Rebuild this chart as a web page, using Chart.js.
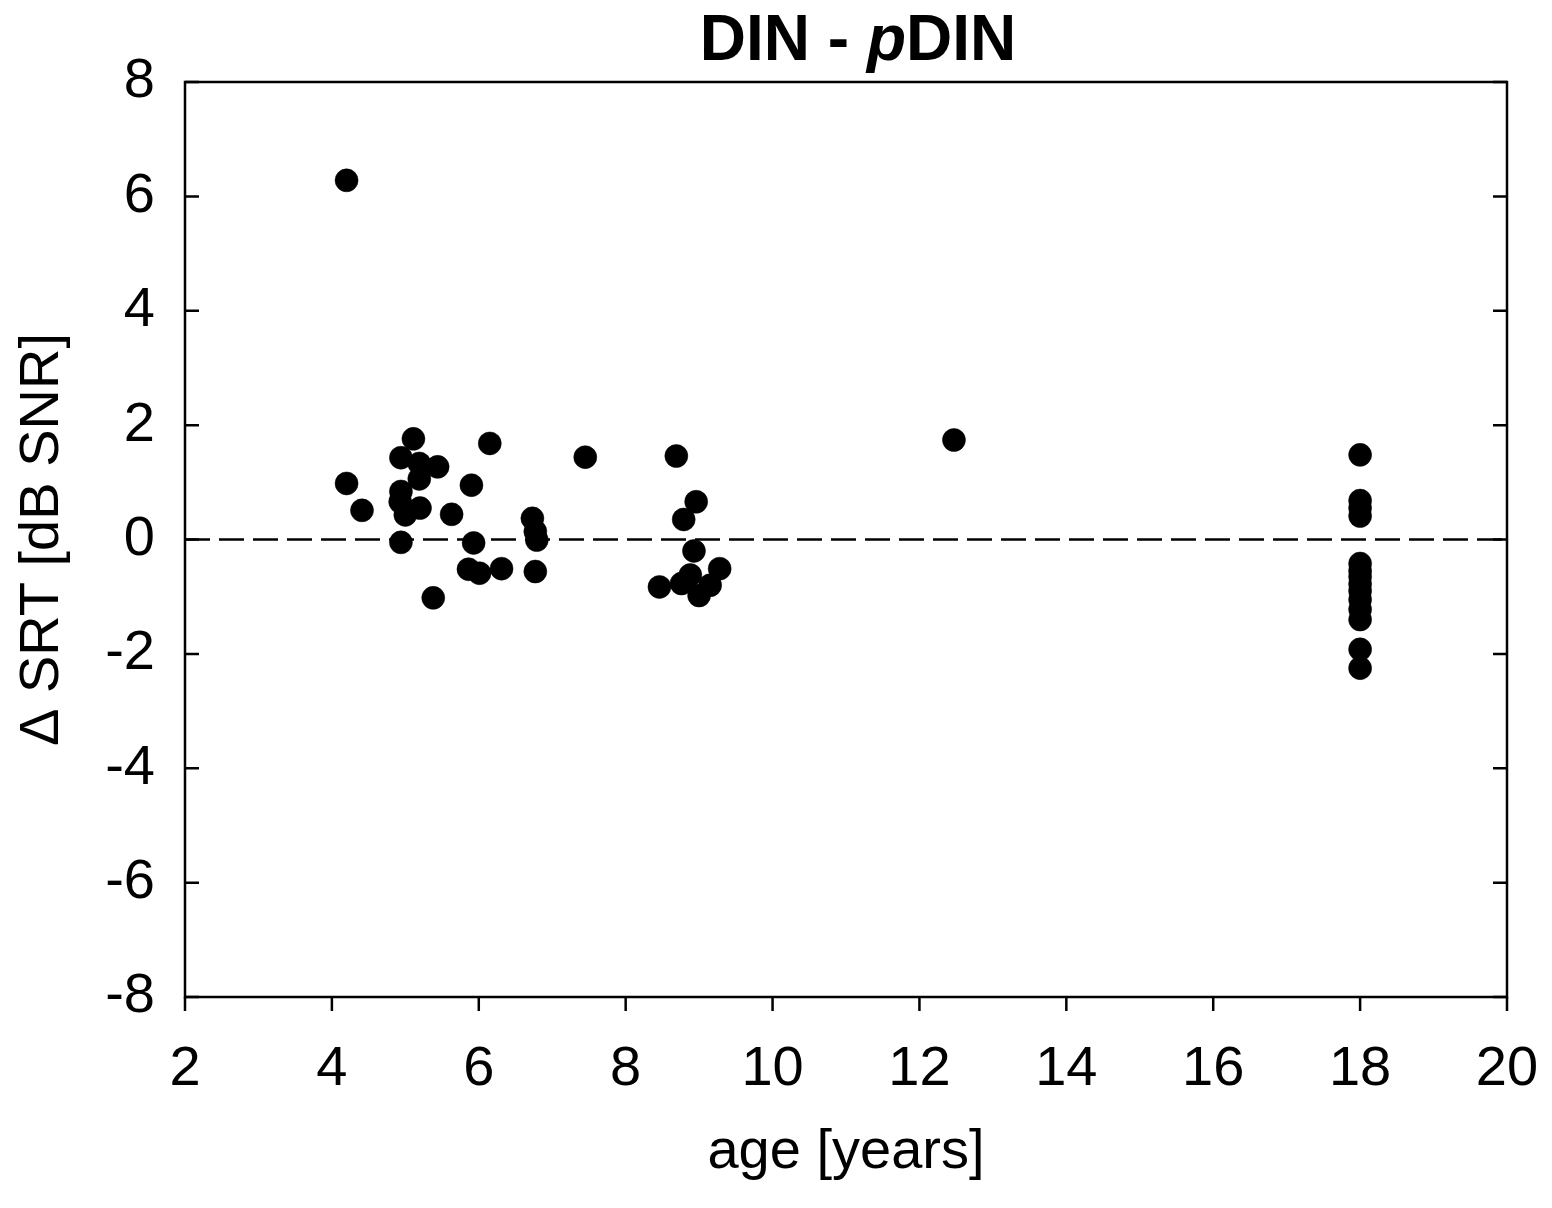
<!DOCTYPE html>
<html>
<head>
<meta charset="utf-8">
<style>
  body { margin: 0; background: #fff; }
</style>
<script src="https://cdn.jsdelivr.net/npm/chart.js@4.4.1/dist/chart.umd.min.js"></script>
</head>
<body>
<canvas id="myChart" width="1552" height="1208"></canvas>
<script>
// age of each listener [years]
var age = [4.2, 4.2, 4.41, 5.11, 4.94, 5.19, 5.44, 5.19, 4.94, 4.93, 5.2, 5.0, 5.63, 6.15, 5.9,
  4.94, 5.93, 5.86, 6.01, 6.31, 5.38, 6.73, 6.77, 6.79, 6.77, 7.45,
  8.69, 8.96, 8.79, 8.93, 8.46, 8.88, 8.76, 9.28, 9.15, 9.0,
  12.47,
  18, 18, 18, 18, 18, 18, 18, 18, 18, 18, 18, 18, 18, 18];
// SRT difference DIN - pDIN [dB SNR]
var deltaSRT = [6.28, 0.98, 0.51, 1.76, 1.43, 1.33, 1.27, 1.06, 0.84, 0.66, 0.55, 0.43, 0.44, 1.68, 0.95,
  -0.05, -0.06, -0.52, -0.59, -0.51, -1.02, 0.37, 0.14, -0.01, -0.56, 1.44,
  1.46, 0.66, 0.35, -0.2, -0.83, -0.62, -0.77, -0.51, -0.8, -0.98,
  1.74,
  1.48, 0.68, 0.55, 0.41, -0.42, -0.55, -0.65, -0.78, -0.9, -1.05, -1.22, -1.4, -1.92, -2.25];
// zero reference line
var zeroX = [2, 20];
var zeroY = [0, 0];

var font = '"Liberation Sans", Arial, sans-serif';

var points = age.map(function(a, i) { return {x: a, y: deltaSRT[i]}; });
var zeroLine = zeroX.map(function(a, i) { return {x: a, y: zeroY[i]}; });

var framePlugin = {
  id: 'frame',
  afterDraw: function(chart) {
    var ctx = chart.ctx, area = chart.chartArea;
    var xs = chart.scales.x, ys = chart.scales.y;
    ctx.save();
    ctx.strokeStyle = '#000';
    ctx.lineWidth = 2.5;
    ctx.strokeRect(area.left, area.top, area.right - area.left, area.bottom - area.top);
    ctx.beginPath();
    ys.ticks.forEach(function(t) {
      var y = ys.getPixelForValue(t.value);
      ctx.moveTo(area.left, y); ctx.lineTo(area.left + 14, y);
      ctx.moveTo(area.right - 14, y); ctx.lineTo(area.right, y);
    });
    xs.ticks.forEach(function(t) {
      var x = xs.getPixelForValue(t.value);
      ctx.moveTo(x, area.bottom); ctx.lineTo(x, area.bottom + 14);
    });
    ctx.stroke();

    // title with italic p
    var parts = [['DIN - ', 'bold'], ['p', 'italic bold'], ['DIN', 'bold']];
    var size = 64, w = 0;
    parts.forEach(function(p) { ctx.font = p[1] + ' ' + size + 'px ' + font; p.push(ctx.measureText(p[0]).width); w += p[2]; });
    var x = 858 - w / 2;
    ctx.fillStyle = '#000';
    ctx.textBaseline = 'alphabetic';
    ctx.textAlign = 'left';
    parts.forEach(function(p) { ctx.font = p[1] + ' ' + size + 'px ' + font; ctx.fillText(p[0], x, 60); x += p[2]; });
    ctx.restore();
  }
};

var ctx = document.getElementById('myChart');
var myChart = new Chart(ctx, {
  type: 'scatter',
  data: {
    datasets: [
      {
        data: points,
        backgroundColor: '#000',
        borderColor: '#000',
        pointRadius: 11.5,
        pointBorderWidth: 0.5,
        order: 0
      },
      {
        type: 'line',
        data: zeroLine,
        showLine: true,
        borderColor: '#000',
        borderWidth: 2.5,
        borderDash: [25, 9],
        pointRadius: 0,
        fill: false,
        order: 1
      }
    ]
  },
  options: {
    responsive: false,
    animation: false,
    layout: { padding: { top: 82, right: 45, left: 0, bottom: 0 } },
    plugins: { legend: { display: false }, tooltip: { enabled: false }, title: { display: false } },
    scales: {
      x: {
        type: 'linear',
        min: 2, max: 20,
        grid: { display: false, drawTicks: false },
        border: { display: false },
        ticks: { stepSize: 2, color: '#000', padding: 39, font: { family: font, size: 56 } },
        title: { display: true, text: 'age [years]', color: '#000', padding: { top: 22, bottom: 22 }, font: { family: font, size: 56 } },
        afterFit: function(scale) { scale.height = 211; scale.paddingLeft = 0; scale.paddingRight = 0; }
      },
      y: {
        type: 'linear',
        min: -8, max: 8,
        grid: { display: false, drawTicks: false },
        border: { display: false },
        ticks: { stepSize: 2, color: '#000', padding: 30, font: { family: font, size: 56 } },
        title: { display: true, text: '\u0394 SRT [dB SNR]', color: '#000', padding: { top: 9, bottom: 9 }, font: { family: font, size: 56 } },
        afterFit: function(scale) { scale.width = 185; scale.paddingTop = 0; scale.paddingBottom = 0; }
      }
    }
  },
  plugins: [framePlugin]
});
</script>
</body>
</html>
